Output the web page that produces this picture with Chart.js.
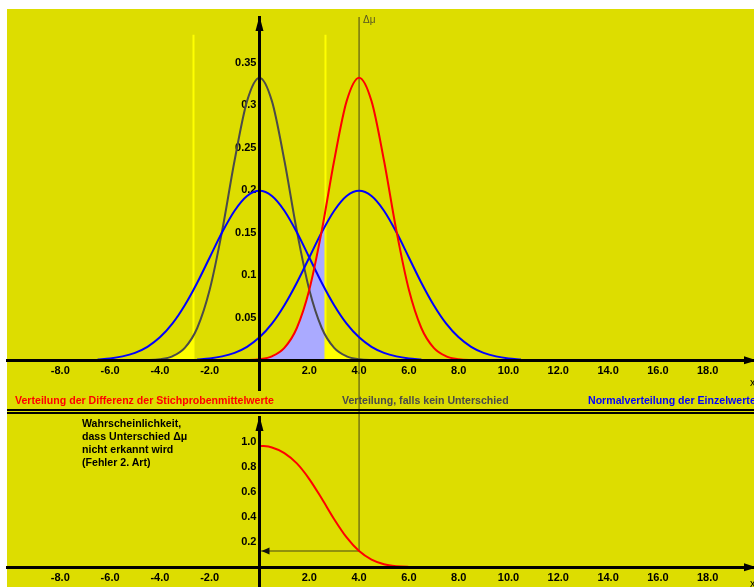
<!DOCTYPE html>
<html><head><meta charset="utf-8">
<script src="https://cdn.jsdelivr.net/npm/chart.js@4/dist/chart.umd.min.js"></script>
<style>
html,body{margin:0;padding:0;background:#fff;width:754px;height:587px;overflow:hidden;position:relative;}
#bg{position:absolute;left:7px;top:9px;width:747px;height:578px;background:#DDDD00;}
canvas{position:absolute;left:0;}
#c1{top:0px;}
#c2{top:410px;}
.t{position:absolute;font-family:"Liberation Sans",Arial,sans-serif;font-weight:bold;font-size:10.6px;white-space:nowrap;line-height:13px;}
.sep{position:absolute;left:7px;width:747px;height:2px;background:#000;}
</style></head><body>
<div id="bg"></div>
<canvas id="c1" width="754" height="410"></canvas>
<canvas id="c2" width="754" height="177"></canvas>
<div class="sep" style="top:409px"></div>
<div class="sep" style="top:412px"></div>
<div class="t" style="left:15px;top:394px;color:#ff0000">Verteilung der Differenz der Stichprobenmittelwerte</div>
<div class="t" style="left:342px;top:394px;color:#4a4a4a">Verteilung, falls kein Unterschied</div>
<div class="t" style="left:588px;top:394px;color:#0000ff">Normalverteilung der Einzelwerte</div>
<div class="t" style="left:82px;top:417px;color:#000">Wahrscheinlichkeit,<br>dass Unterschied Δμ<br>nicht erkannt wird<br>(Fehler 2. Art)</div>
<div class="t" style="left:363px;top:13px;color:#555522;font-weight:normal;font-size:10px">Δμ</div>
<div class="t" style="left:750px;top:376px;color:#000;font-weight:normal">x</div>
<div class="t" style="left:750px;top:577px;color:#000;font-weight:normal">x</div>
<script>
// ---------- data ----------
const xTickValues = [-8,-6,-4,-2,2,4,6,8,10,12,14,16,18];
const xTickLabels = ['-8.0','-6.0','-4.0','-2.0','2.0','4.0','6.0','8.0','10.0','12.0','14.0','16.0','18.0'];
const yTickValuesTop = [0.05,0.1,0.15,0.2,0.25,0.3,0.35];
const yTickLabelsTop = ['0.05','0.1','0.15','0.2','0.25','0.3','0.35'];
const yTickValuesBottom = [0.2,0.4,0.6,0.8,1.0];
const yTickLabelsBottom = ['0.2','0.4','0.6','0.8','1.0'];

// distribution if no difference (grey)
const grayX = [-5,-4.5,-4,-3.5,-3,-2.5,-2,-1.5,-1,-0.5,0,0.5,1,1.5,2,2.5,3,3.5,4,4.5,5];
const grayY = [0.0001,0.0003,0.0013,0.0047,0.0146,0.0380,0.0829,0.1522,0.2350,0.3049,0.3325,0.3049,0.2350,0.1522,0.0829,0.0380,0.0146,0.0047,0.0013,0.0003,0.0001];
// distribution of the difference of sample means (red)
const redX = [-2,-1.5,-1,-0.5,0,0.5,1,1.5,2,2.5,3,3.5,4,4.5,5,5.5,6,6.5,7,7.5,8,8.5,9,9.5,10];
const redY = [0.0000,0.0000,0.0001,0.0003,0.0013,0.0047,0.0146,0.0380,0.0829,0.1522,0.2350,0.3049,0.3325,0.3049,0.2350,0.1522,0.0829,0.0380,0.0146,0.0047,0.0013,0.0003,0.0001,0.0000,0.0000];
// normal distribution of single values (blue), two copies
const blueLeftX = [-6.5,-6,-5.5,-5,-4.5,-4,-3.5,-3,-2.5,-2,-1.5,-1,-0.5,0,0.5,1,1.5,2,2.5,3,3.5,4,4.5,5,5.5,6,6.5];
const blueRightX = [-2.5,-2,-1.5,-1,-0.5,0,0.5,1,1.5,2,2.5,3,3.5,4,4.5,5,5.5,6,6.5,7,7.5,8,8.5,9,9.5,10,10.5];
const blueY = [0.0010,0.0022,0.0046,0.0088,0.0159,0.0270,0.0431,0.0648,0.0913,0.1210,0.1506,0.1760,0.1933,0.1995,0.1933,0.1760,0.1506,0.1210,0.0913,0.0648,0.0431,0.0270,0.0159,0.0088,0.0046,0.0022,0.0010];
// critical bounds (yellow lines) and curve heights there
const critical = [-2.65, 2.65];
const grayAtCritical = [0.030, 0.030];
const redAtCritical = [0.0000, 0.177];
const yellowLineTop = 0.383;
// difference marker
const deltaMu = 4;
// probability of type II error (bottom panel)
const betaX = [0,0.5,1,1.5,2,2.5,3,3.5,4,4.5,5,5.5,6,6.5];
const betaY = [0.973,0.959,0.914,0.831,0.706,0.550,0.385,0.239,0.130,0.062,0.025,0.009,0.003,0.001];
const betaAtDelta = 0.130;

// ---------- layout constants ----------
const X_MIN = -10.14, X_MAX = 19.86;
const TOP_Y_MIN = -0.03494, TOP_Y_MAX = 0.40388;
const BOT_Y_MIN = -0.1576, BOT_Y_MAX = 1.2024;
const FONT = {family:'"Liberation Sans", Arial, sans-serif', size:11, weight:'bold'};
const OLIVE = '#777711';

const pts = (xs, ys) => xs.map((x,i)=>({x:x, y:ys[i]}));

function zeroPad(s){ s.paddingTop = 0; s.paddingBottom = 0; s.paddingLeft = 0; s.paddingRight = 0; }
function xScale(){
  return {
    type:'linear', min:X_MIN, max:X_MAX, position:{y:0}, offset:false,
    grid:{display:false, drawTicks:false},
    border:{display:true, color:'#000', width:3, z:1},
    ticks:{autoSkip:false, maxRotation:0, minRotation:0, padding:4, color:'#000', font:FONT,
      callback:(v,i)=>xTickLabels[i]},
    afterBuildTicks:s=>{ s.ticks = xTickValues.map(v=>({value:v})); },
    afterFit:s=>{ s.height = 0; zeroPad(s); }
  };
}
function yScale(min,max,vals,labels){
  return {
    type:'linear', min:min, max:max, position:{x:0},
    grid:{display:false, drawTicks:false},
    border:{display:true, color:'#000', width:3, z:1},
    ticks:{autoSkip:false, padding:0, color:'#000', font:FONT, callback:(v,i)=>labels[i] + ' '},
    afterBuildTicks:s=>{ s.ticks = vals.map(v=>({value:v})); },
    afterFit:s=>{ s.width = 0; zeroPad(s); }
  };
}
function arrowPlugin(withBeta){
  return {
    id:'arrows',
    afterDraw(chart){
      const {ctx, chartArea:a, scales:{x,y}} = chart;
      const x0 = x.getPixelForValue(0), y0 = y.getPixelForValue(0);
      ctx.save();
      ctx.fillStyle = '#000';
      ctx.beginPath(); ctx.moveTo(x0, a.top-1); ctx.lineTo(x0-4, a.top+14); ctx.lineTo(x0+4, a.top+14); ctx.closePath(); ctx.fill();
      ctx.beginPath(); ctx.moveTo(a.right+3, y0); ctx.lineTo(a.right-10, y0-4); ctx.lineTo(a.right-10, y0+4); ctx.closePath(); ctx.fill();
      if (withBeta){
        const yb = y.getPixelForValue(betaAtDelta);
        ctx.fillStyle = '#111';
        ctx.beginPath(); ctx.moveTo(x0+2, yb); ctx.lineTo(x0+10, yb-3.5); ctx.lineTo(x0+10, yb+3.5); ctx.closePath(); ctx.fill();
      }
      ctx.restore();
    }
  };
}
const curve = (data, color) => ({data, borderColor:color, borderWidth:2, pointRadius:0, cubicInterpolationMode:'monotone', fill:false});

// fill areas built from the read curves
const lavender = [{x:critical[0], y:redAtCritical[0]}]
  .concat(pts(redX, redY).filter(p=>p.x>critical[0] && p.x<critical[1]))
  .concat([{x:critical[1], y:redAtCritical[1]}]);
const yellowLeft = pts(grayX, grayY).filter(p=>p.x<critical[0]).concat([{x:critical[0], y:grayAtCritical[0]}]);
const yellowRight = [{x:critical[1], y:grayAtCritical[1]}].concat(pts(grayX, grayY).filter(p=>p.x>critical[1]));

const baseOpts = {responsive:false, animation:false, devicePixelRatio:1,
  plugins:{legend:{display:false}, tooltip:{enabled:false}}, events:[]};

new Chart(document.getElementById('c1'), {
  type:'line',
  data:{datasets:[
    curve(pts(redX, redY), '#ff0000'),
    curve(pts(blueRightX, blueY), '#0000ff'),
    curve(pts(blueLeftX, blueY), '#0000ff'),
    curve(pts(grayX, grayY), '#4a4a4a'),
    {data:[{x:deltaMu,y:TOP_Y_MAX},{x:deltaMu,y:-0.0596}], borderColor:OLIVE, borderWidth:1.5, pointRadius:0, clip:false},
    {data:[{x:critical[0],y:0},{x:critical[0],y:yellowLineTop}], borderColor:'#ffff00', borderWidth:2, pointRadius:0},
    {data:[{x:critical[1],y:0},{x:critical[1],y:yellowLineTop}], borderColor:'#ffff00', borderWidth:2, pointRadius:0},
    {data:lavender, borderColor:'rgba(0,0,0,0)', borderWidth:0, pointRadius:0, cubicInterpolationMode:'monotone', fill:'origin', backgroundColor:'#aaaaff'},
    {data:yellowLeft, borderColor:'rgba(0,0,0,0)', borderWidth:0, pointRadius:0, cubicInterpolationMode:'monotone', fill:'origin', backgroundColor:'#ffff00'},
    {data:yellowRight, borderColor:'rgba(0,0,0,0)', borderWidth:0, pointRadius:0, cubicInterpolationMode:'monotone', fill:'origin', backgroundColor:'#ffff00'}
  ]},
  options:Object.assign({}, baseOpts, {
    layout:{padding:{left:7, top:17, right:0, bottom:20}},
    scales:{x:xScale(), y:yScale(TOP_Y_MIN, TOP_Y_MAX, yTickValuesTop, yTickLabelsTop)}
  }),
  plugins:[arrowPlugin(false)]
});

new Chart(document.getElementById('c2'), {
  type:'line',
  data:{datasets:[
    curve(pts(betaX, betaY), '#ff0000'),
    {data:[{x:deltaMu,y:1.26},{x:deltaMu,y:betaAtDelta}], borderColor:OLIVE, borderWidth:1.5, pointRadius:0, clip:false},
    {data:[{x:0,y:betaAtDelta},{x:deltaMu,y:betaAtDelta}], borderColor:OLIVE, borderWidth:1.5, pointRadius:0}
  ]},
  options:Object.assign({}, baseOpts, {
    layout:{padding:{left:7, top:7, right:0, bottom:0}},
    scales:{x:xScale(), y:yScale(BOT_Y_MIN, BOT_Y_MAX, yTickValuesBottom, yTickLabelsBottom)}
  }),
  plugins:[arrowPlugin(true)]
});
</script>
</body></html>
